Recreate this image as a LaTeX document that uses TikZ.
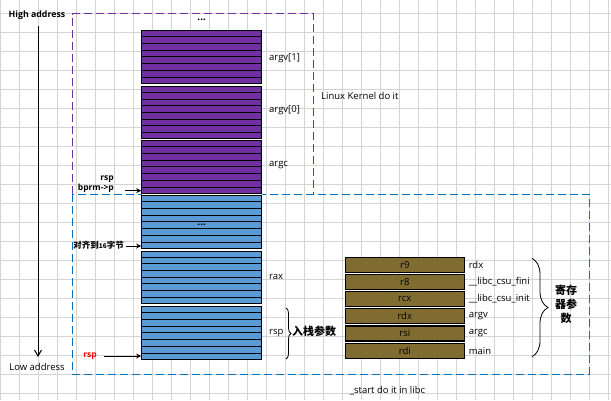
\documentclass[tikz,border=0pt]{standalone}
\usepackage{fontspec}
\setmainfont{Open Sans}
\newfontfamily\cjk{Noto Sans CJK SC}
\usetikzlibrary{arrows.meta,decorations.pathreplacing,calc}
\definecolor{purp}{HTML}{7030A0}
\definecolor{stackblue}{HTML}{5B9BD5}
\definecolor{dashblue}{HTML}{0070C0}
\definecolor{olive}{RGB}{128,108,48}
\definecolor{gridgray}{RGB}{212,212,212}
\tikzset{
  gridline/.style={draw=gridgray, line width=0.9pt},
  stackblk/.style={draw=black, line width=1pt, minimum width=120pt, minimum height=53pt, inner sep=0pt},
  stripe/.style={draw=black, line width=0.9pt},
  regbox/.style={draw=black, line width=1.1pt, fill=olive, minimum width=119pt, minimum height=15pt, inner sep=0pt, font=\fontsize{9.5}{10}\selectfont},
  lbl/.style={inner sep=0pt, font=\fontsize{9.5}{10}\selectfont},
  blbl/.style={inner sep=0pt, font=\fontsize{8.5}{9}\selectfont\bfseries},
  cjklbl/.style={inner sep=0pt, font=\fontsize{11}{14}\selectfont\cjk\bfseries, align=center},
  ptr/.style={draw=black, line width=1pt, -{Stealth[length=5pt,width=5pt]}},
  kdash/.style={draw=purp, line width=1pt, dash pattern=on 8pt off 4pt},
  bdash/.style={draw=dashblue, line width=1pt, dash pattern=on 8pt off 4pt},
  bracedeco/.style={draw=black, line width=0.8pt, decorate, decoration={brace, amplitude=#1}},
}
\begin{document}
\begin{tikzpicture}[x=1pt,y=-1pt]
\useasboundingbox (0,0) rectangle (611,400);
\fill[white] (0,0) rectangle (611,400);
% grid
\foreach \i in {0,...,32} \draw[gridline] ({0.3+19*\i},0) -- ({0.3+19*\i},400);
\foreach \j in {0,...,20} \draw[gridline] (0,{13.3+19*\j}) -- (611,{13.3+19*\j});

% dashed regions
\draw[kdash] (72.3,194.3) -- (72.3,13.7) -- (313.3,13.7) -- (313.3,194.3);
\draw[bdash] (72.3,194.3) rectangle (589.3,374.3);

% address axis
\node[blbl, font=\fontsize{8.8}{9}\selectfont\bfseries] (high) at (37,15) {High address};
\node[lbl] (low) at (37,367) {Low address};
\coordinate (axtop) at (38,26);
\coordinate (axbot) at (38,357);
\draw[line width=1pt, -{Straight Barb[length=6pt,width=7pt]}] (axtop) -- (axbot);

% stack column
\fill[white] (141.7,30.3) rectangle (261.7,359.3);
\node[stackblk, fill=purp] (b1) at (201.7,56.8) {};
\node[stackblk, fill=purp, minimum height=52pt] (b2) at (201.7,112.5) {};
\node[stackblk, fill=purp] (b3) at (201.7,166.8) {};
\node[stackblk, fill=stackblue] (b4) at (201.7,221.7) {};
\node[stackblk, fill=stackblue, minimum height=52.3pt] (b5) at (201.7,277.2) {};
\node[stackblk, fill=stackblue] (b6) at (201.7,332.8) {};
\foreach \b in {b1,b2,b3,b4,b5,b6}
  \foreach \k in {1,...,7}
    \draw[stripe] ($(\b.north west)!\k/8!(\b.south west)$) -- ($(\b.north east)!\k/8!(\b.south east)$);

\node[blbl, font=\fontsize{10}{10}\selectfont\bfseries] (dots1) at (201.7,19.5) {...};
\node[blbl, font=\fontsize{10}{10}\selectfont\bfseries] (dots2) at (201.7,224.5) {...};

% stack labels
\node[lbl, anchor=west] (largv1) at (269,58.7) {argv[1]};
\node[lbl, anchor=west] (largv0) at (269,109.7) {argv[0]};
\node[lbl, anchor=west] (largc) at (269,165) {argc};
\node[lbl, anchor=west] (lrax) at (269,277) {rax};
\node[lbl, anchor=west] (lrsp) at (269,333.3) {rsp};

% left pointers
\node[blbl, anchor=east] (rsp1) at (114,179) {rsp};
\node[blbl, anchor=east] (bprm) at (114,188.7) {bprm->p};
\coordinate (p1) at (125,190.7);
\draw[ptr] (p1) -- (p1 -| b3.west);
\node[inner sep=0pt, anchor=east, font=\fontsize{8.5}{9}\selectfont\cjk\bfseries] (align) at (124,245.5) {对齐到{\fontsize{6.5}{7}\selectfont 16}字节};
\coordinate (p2) at (126,246);
\draw[ptr] (p2) -- (p2 -| b4.west);
\node[blbl, anchor=east, text=red] (rsp2) at (97,355.7) {rsp};
\coordinate (p3) at (104,356);
\draw[ptr] (p3) -- (p3 -| b6.west);

% stack-args brace
\coordinate (sb1) at (286,308);
\coordinate (sb2) at (286,359);
\draw[bracedeco=5pt] (sb1) -- (sb2);
\node[cjklbl, anchor=west] (stackargs) at (292,331.7) {入栈参数};

% register boxes
\node[regbox] (r9) at (404.8,264.7) {r9};
\node[regbox] (r8) at (404.8,281.9) {r8};
\node[regbox] (rcx) at (404.8,299.1) {rcx};
\node[regbox] (rdx) at (404.8,316.3) {rdx};
\node[regbox] (rsi) at (404.8,333.5) {rsi};
\node[regbox] (rdi) at (404.8,350.7) {rdi};
\node[lbl, anchor=west] at ([xshift=3.7pt]r9.east) {rdx};
\node[lbl, anchor=west] at ([xshift=3.7pt]r8.east) {\_\_libc\_csu\_fini};
\node[lbl, anchor=west] at ([xshift=3.7pt]rcx.east) {\_\_libc\_csu\_init};
\node[lbl, anchor=west] at ([xshift=3.7pt]rdx.east) {argv};
\node[lbl, anchor=west] at ([xshift=3.7pt]rsi.east) {argc};
\node[lbl, anchor=west] at ([xshift=3.7pt]rdi.east) {main};

% register brace
\coordinate (rb1) at (532,258.3);
\coordinate (rb2) at (532,356.7);
\draw[bracedeco=16pt] (rb1) -- (rb2);
\node[cjklbl] (regargs) at (566,304) {寄存\\器参\\数};

% region captions
\node[lbl, anchor=west] (kernel) at (321,96) {Linux Kernel do it};
\node[lbl] (libc) at (387.5,390.7) {\_start do it in libc};
\end{tikzpicture}
\end{document}
